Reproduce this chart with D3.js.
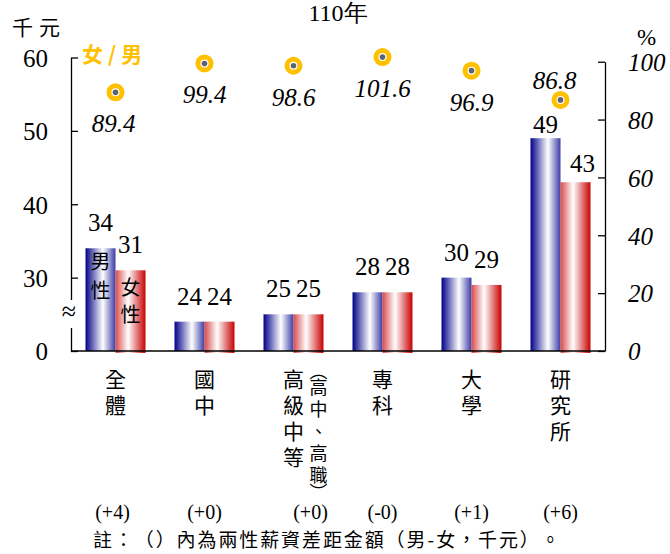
<!DOCTYPE html>
<html>
<head>
<meta charset="utf-8">
<script src="https://cdn.jsdelivr.net/npm/d3@7"></script>
<style>
body { margin: 0; background: #fff; }
svg { display: block; }
</style>
</head>
<body>
<div id="root"></div>
<script>
// 110年 兩性薪資（千元）與 女/男 比率（%）
const categories = ["全體", "國中", "高級中等", "專科", "大學", "研究所"];
const categoryNotes = ["", "", "（高中、高職）", "", "", ""];
const maleWage = [34, 24, 25, 28, 30, 49];
const femaleWage = [31, 24, 25, 28, 29, 43];
const ratio = [89.4, 99.4, 98.6, 101.6, 96.9, 86.8];
const gapLabels = ["(+4)", "(+0)", "(+0)", "(-0)", "(+1)", "(+6)"];
// left axis is broken: the bottom tick stands for 0, the scale really starts at 20
const leftTicks = [20, 30, 40, 50, 60];
const leftTickLabels = ["0", "30", "40", "50", "60"];
const rightTicks = [0, 20, 40, 60, 80, 100];
const noteText = "註：（）內為兩性薪資差距金額（男-女，千元）。";

const W = 670, H = 554;
const serif = "'Liberation Serif', 'Times New Roman', 'DejaVu Serif', serif";
const cjk = "'Noto Sans CJK TC', 'Noto Sans CJK SC', sans-serif";
const gold = "#FFC000";

const svg = d3.select("#root").append("svg").attr("width", W).attr("height", H);

const left = 71, right = 605, base = 351;
const x0 = d3.scaleBand().domain(categories).range([left, right])
	.paddingInner(0.326).paddingOuter(0.163);
const x1 = d3.scaleBand().domain(["m", "f"]).range([0, x0.bandwidth()]);
const yL = d3.scaleLinear().domain([20, 60]).range([base, 57.5]);
const yR = d3.scaleLinear().domain([0, 100]).range([base, 61.7]);

// fixed-pitch glyph positions, so the browser does not squeeze the brackets
const isBracket = c => c === "（" || c === "）";
const pitch = (str, start, step, tight) => {
	const cs = Array.from(str);
	let p = start;
	return cs.map((c, i) => {
		const v = p;
		let adv = c.charCodeAt(0) < 128 ? step * 0.42 : step;
		if (tight && (isBracket(c) || isBracket(cs[i + 1] || ""))) adv = step * 0.75;
		p += adv;
		return v.toFixed(1);
	}).join(" ");
};

// gradients
const defs = svg.append("defs");
const grad = (id, stops) => {
	const g = defs.append("linearGradient").attr("id", id)
		.attr("x1", 0).attr("x2", 1).attr("y1", 0).attr("y2", 0);
	stops.forEach(s => g.append("stop").attr("offset", s[0]).attr("stop-color", s[1]));
};
grad("gBlue", [[0, "#000088"], [0.58, "#ffffff"], [1, "#3c3ca6"]]);
grad("gRed", [[0, "#d84a4a"], [0.42, "#ffffff"], [1, "#c80000"]]);

// title
svg.append("text").attr("x", 338).attr("y", 21).attr("text-anchor", "middle")
	.style("font-family", serif).style("font-size", "24px").text("110年");

svg.append("text").attr("x", 12).attr("y", 35)
	.style("font-family", cjk).style("font-size", "21px").style("letter-spacing", "6px")
	.text("千元");
svg.append("text").attr("x", 637).attr("y", 45)
	.style("font-family", serif).style("font-size", "23px").text("%");
svg.append("text").attr("x", 82).attr("y", 62)
	.style("font-family", cjk).style("font-size", "21px").style("font-weight", "bold")
	.style("letter-spacing", "5px").style("fill", gold).text("女/男");

// bars
const groups = svg.append("g").selectAll("g").data(categories).join("g")
	.attr("transform", d => `translate(${x0(d)},0)`);
groups.append("rect")
	.attr("x", x1("m")).attr("width", x1.bandwidth())
	.attr("y", (d, i) => yL(maleWage[i]))
	.attr("height", (d, i) => yL(20) - yL(maleWage[i]))
	.attr("fill", "url(#gBlue)");
groups.append("rect")
	.attr("x", x1("f")).attr("width", x1.bandwidth())
	.attr("y", (d, i) => yL(femaleWage[i]))
	.attr("height", (d, i) => yL(20) - yL(femaleWage[i]) + 2)
	.attr("fill", "url(#gRed)");

// value labels, a couple nudged to avoid the ratio labels
const nudge = { "m5": [0, 12], "f5": [7, 7] };
const valLab = (key, vals) => groups.append("text")
	.attr("x", (d, i) => x1(key) + x1.bandwidth() / 2 + (nudge[key + i] || [0, 0])[0])
	.attr("y", (d, i) => yL(vals[i]) - 17 + (nudge[key + i] || [0, 0])[1])
	.attr("text-anchor", "middle")
	.style("font-family", serif).style("font-size", "25px")
	.text((d, i) => vals[i]);
valLab("m", maleWage);
valLab("f", femaleWage);

// 男性 / 女性 inside the first pair
const inBar = (key, txt, y0, gap) => svg.append("text")
	.attr("x", x0(categories[0]) + x1(key) + x1.bandwidth() / 2)
	.attr("y", y0)
	.attr("writing-mode", "vertical-rl")
	.style("font-family", cjk).style("font-size", "20px").style("letter-spacing", gap + "px")
	.text(txt);
inBar("m", "男性", 251, 9);
inBar("f", "女性", 277, 7);

// axes
const axL = svg.append("g").attr("transform", `translate(${left},0)`)
	.call(d3.axisLeft(yL).tickValues(leftTicks).tickSize(-7).tickSizeOuter(0)
		.tickPadding(23).tickFormat((d, i) => leftTickLabels[i]));
axL.selectAll("text").style("font-family", serif).style("font-size", "25px")
	.attr("dy", "0.35em").style("fill", "#000");
const axR = svg.append("g").attr("transform", `translate(${right},0)`)
	.call(d3.axisRight(yR).tickValues(rightTicks).tickSize(-7).tickSizeOuter(0)
		.tickPadding(23));
axR.selectAll("text").style("font-family", serif).style("font-size", "25px")
	.style("font-style", "italic").attr("dy", "0.35em").style("fill", "#000");
svg.selectAll(".domain, .tick line").attr("stroke", "#000").attr("stroke-width", 1.3);

// baseline
svg.append("line").attr("x1", left).attr("x2", right).attr("y1", base).attr("y2", base)
	.attr("stroke", "#000").attr("stroke-width", 1.5);

// axis break
svg.append("rect").attr("x", 60).attr("y", 300).attr("width", 20).attr("height", 28).attr("fill", "#fff");
svg.append("text").attr("x", 69).attr("y", 320).attr("text-anchor", "middle")
	.style("font-family", serif).style("font-size", "26px").text("≈");

// ratio markers
const cx = d => x0(d) + x0.bandwidth() / 2;
const dots = svg.append("g").selectAll("g").data(categories).join("g")
	.attr("transform", (d, i) => `translate(${cx(d)},${yR(ratio[i])})`);
dots.append("circle").attr("r", 9).attr("fill", gold);
dots.append("circle").attr("r", 4).attr("fill", "#fff");
dots.append("circle").attr("r", 2.8).attr("fill", "#5c6372");
dots.append("text")
	.attr("x", (d, i) => (i === 0 ? -2 : i === 5 ? -6 : 0))
	.attr("y", (d, i) => (i === 5 ? -11 : 40))
	.attr("text-anchor", "middle")
	.style("font-family", serif).style("font-size", "25px").style("font-style", "italic")
	.text((d, i) => ratio[i].toFixed(1));

// category labels (vertical)
svg.append("g").selectAll("text").data(categories).join("text")
	.attr("x", d => cx(d)).attr("y", 369)
	.attr("writing-mode", "vertical-rl")
	.style("font-family", cjk).style("font-size", "21px").style("letter-spacing", "5px")
	.text(d => d);
svg.append("g").selectAll("text").data(categories.filter((d, i) => categoryNotes[i])).join("text")
	.attr("x", d => cx(d) + 25)
	.attr("y", d => pitch(categoryNotes[categories.indexOf(d)], 362, 22, true))
	.attr("writing-mode", "vertical-rl")
	.style("font-family", cjk).style("font-size", "18px")
	.text(d => categoryNotes[categories.indexOf(d)]);

// gap row
svg.append("g").selectAll("text").data(categories).join("text")
	.attr("x", (d, i) => cx(d) + (categoryNotes[i] ? 17 : 0) - (i === 0 ? 3 : 0))
	.attr("y", 519).attr("text-anchor", "middle")
	.style("font-family", serif).style("font-size", "20px")
	.text((d, i) => gapLabels[i]);

svg.append("text").attr("x", pitch(noteText, 93, 20.9, false)).attr("y", 547)
	.style("font-family", cjk).style("font-size", "19px")
	.text(noteText);
</script>
</body>
</html>
